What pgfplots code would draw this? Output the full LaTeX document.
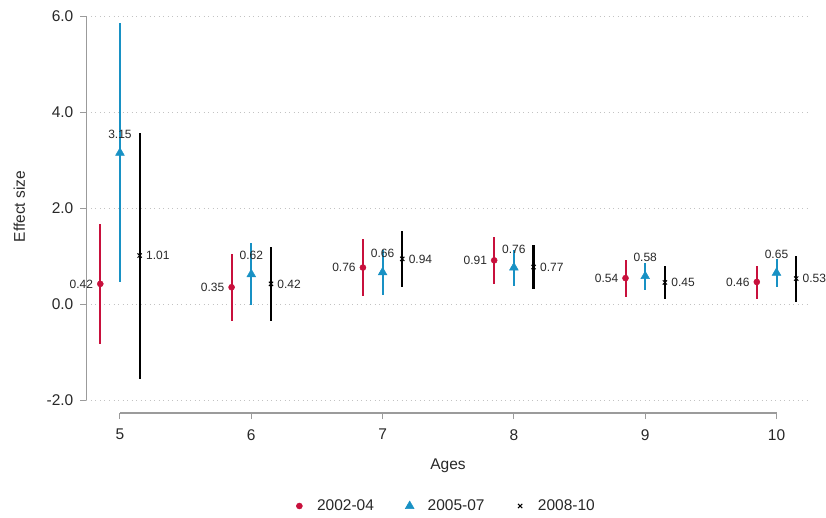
\documentclass[border=0pt]{standalone}
\usepackage{pgfplots}
\usepackage{pgfplotstable}
\pgfplotsset{compat=1.18}
\usepackage{fontspec}
\setmainfont{Liberation Sans}
\definecolor{cred}{RGB}{200,16,60}
\definecolor{cblue}{RGB}{24,145,196}
\definecolor{axgray}{RGB}{155,155,155}
\definecolor{gridgray}{RGB}{195,195,195}
\definecolor{lblcol}{RGB}{40,40,40}

\pgfplotstableread{
x y ep em
4.85 0.42 1.25 1.25
5.85 0.35 0.69 0.70
6.85 0.76 0.59 0.59
7.85 0.91 0.49 0.49
8.85 0.54 0.38 0.39
9.85 0.46 0.33 0.35
}\redtab
\pgfplotstableread{
x y ep em
5 3.15 2.70 2.70
6 0.62 0.66 0.65
7 0.66 0.47 0.47
8 0.76 0.37 0.38
9 0.58 0.27 0.29
10 0.65 0.28 0.29
}\bluetab
\pgfplotstableread{
x y ep em
5.15 1.01 2.56 2.57
6.15 0.42 0.76 0.77
7.15 0.94 0.59 0.59
8.15 0.77 0.47 0.46
9.15 0.45 0.35 0.35
10.15 0.53 0.47 0.48
}\blacktab

\begin{document}
\begin{tikzpicture}
\useasboundingbox (-86.5pt,-104pt) rectangle (739.5pt,413pt);
\begin{axis}[
  at={(0,0)}, anchor=south west,
  scale only axis, width=721.5pt, height=397pt,
  xmin=4.745, xmax=10.24, ymin=-2.27, ymax=6,
  axis x line=bottom, axis y line=left,
  axis line style={draw=none,-},
  clip=false,
  /pgf/number format/assume math mode=true,
  tick align=outside,
  major tick length=6pt,
  tick style={axgray, line width=1pt},
  xtick={5,6,7,8,9,10}, xticklabels={5,6,7,8,9,10},
  ytick={-2,0,2,4,6}, yticklabels={-2.0,0.0,2.0,4.0,6.0},
  minor tick num=0,
  ymajorgrids,
  grid style={gridgray, line width=0.9pt, dash pattern=on 0.9pt off 3.6pt},
  yticklabel style={anchor=east, inner sep=0pt, xshift=-7pt, font=\fontsize{15.5}{18}\selectfont, text=lblcol},
  xticklabel style={anchor=north, inner sep=0pt, yshift=-10pt, font=\fontsize{15.5}{18}\selectfont, text=lblcol},
  every axis x label/.style={at={(axis description cs:0.501,0)}, anchor=base, yshift=-56pt, font=\fontsize{15.5}{18}\selectfont, text=lblcol},
  every axis y label/.style={at={(axis description cs:0,0.52)}, xshift=-61.5pt, rotate=90, anchor=base, font=\fontsize{15.5}{18}\selectfont, text=lblcol},
  xlabel={Ages}, ylabel={Effect size},
  legend columns=3,
  legend style={at={(axis description cs:0.497,0)}, anchor=center, yshift=-93pt, draw=none, fill=none,
    font=\fontsize{15.5}{18}\selectfont, text=lblcol, nodes={inner sep=0pt},
    /tikz/every odd column/.append style={column sep=13.7pt},
    /tikz/every even column/.append style={column sep=31.4pt}},
  legend image code/.code={\path (-3pt,0pt) (3pt,0pt); \draw[#1] plot coordinates {(0pt,0pt)};},
  nodes near coords={\pgfmathprintnumber[fixed,fixed zerofill,precision=2]{\pgfplotspointmeta}},
]
\draw[axgray, line width=1.2pt] (axis cs:4.745,-2) -- (axis cs:4.745,6);
\draw[axgray, line width=1.2pt] (axis cs:5,-2.27) -- (axis cs:10,-2.27);

\addplot[only marks, mark=*, mark size=3pt, color=cred, line width=2pt, mark options={fill=cred, draw=cred, solid, line width=0.5pt},
  every node near coord/.append style={anchor=east, inner sep=0pt, xshift=-7pt, font=\fontsize{12}{14}\selectfont, text=lblcol},
  error bars/y dir=both, error bars/y explicit, error bars/error mark=none,
  error bars/error bar style={line width=2pt, cred}]
  table[x=x, y=y, y error plus=ep, y error minus=em] {\redtab};
\addlegendentry{2002-04}

\addplot[only marks, mark=triangle*, mark size=5pt, color=cblue, line width=2pt, mark options={fill=cblue, draw=cblue, solid, line width=0.5pt},
  every node near coord/.append style={anchor=south, inner sep=0pt, yshift=14pt, font=\fontsize{12}{14}\selectfont, text=lblcol},
  error bars/y dir=both, error bars/y explicit, error bars/error mark=none,
  error bars/error bar style={line width=2pt, cblue}]
  table[x=x, y=y, y error plus=ep, y error minus=em] {\bluetab};
\addlegendentry{2005-07}

\addplot[only marks, mark=x, mark size=3pt, color=black, line width=2.2pt, mark options={draw=black, line width=1pt, solid},
  every node near coord/.append style={anchor=west, inner sep=0pt, xshift=6pt, font=\fontsize{12}{14}\selectfont, text=lblcol},
  error bars/y dir=both, error bars/y explicit, error bars/error mark=none,
  error bars/error bar style={line width=2.2pt, black}]
  table[x=x, y=y, y error plus=ep, y error minus=em] {\blacktab};
\addlegendentry{2008-10}
\end{axis}
\end{tikzpicture}
\end{document}
